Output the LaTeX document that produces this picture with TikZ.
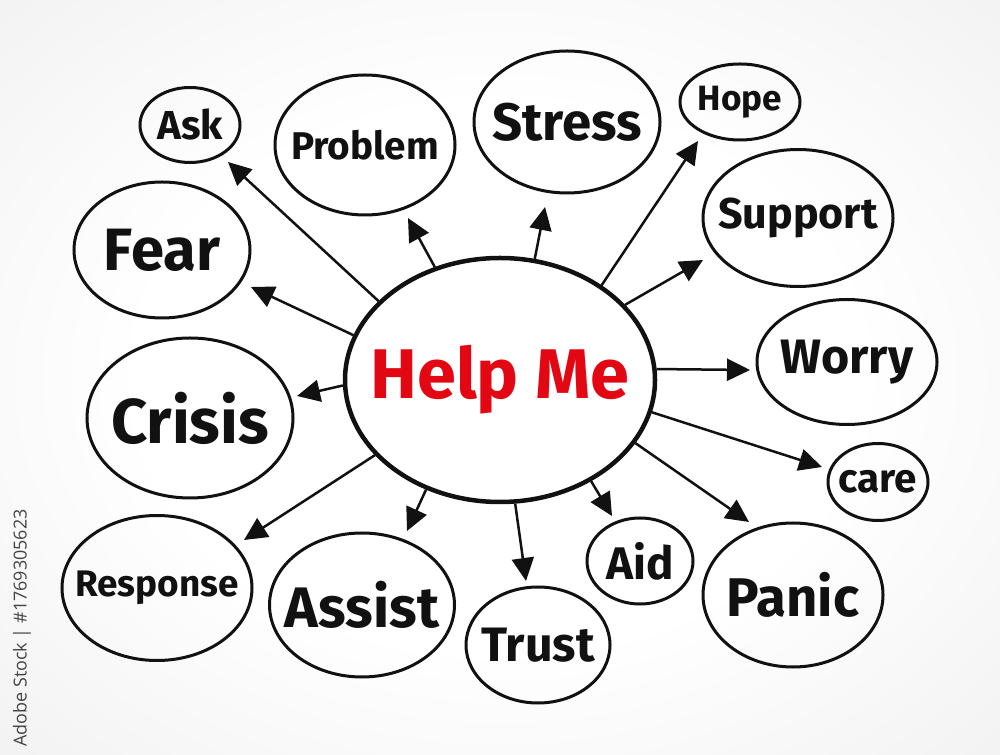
\documentclass[tikz,border=0pt]{standalone}
\usepackage{fontspec}
\setmainfont{Fira Sans}
\newfontfamily\stockfont{Open Sans}
\usetikzlibrary{arrows.meta,shapes.geometric}
\definecolor{hmred}{HTML}{E30613}
\definecolor{hmink}{HTML}{111111}
\definecolor{hmgray}{HTML}{444444}
\pgfdeclareradialshading{paper}{\pgfpoint{0bp}{0bp}}{color(0bp)=(white); color(18bp)=(white); color(50bp)=(black!9); color(72bp)=(black!16)}

\begin{document}
\begin{tikzpicture}[x=0.2mm,y=-0.2mm,
  bub/.style={ellipse,draw=hmink,line width=0.6mm,inner sep=0pt,align=center,text=hmink},
  hub/.style={ellipse,draw=hmink,line width=0.9mm,fill=white,inner sep=0pt,minimum width=62mm,minimum height=48.8mm,text=hmred,font=\bfseries\fontsize{40pt}{40pt}\selectfont},
  ar/.style={-{Triangle[length=4.6mm,width=4.4mm]},line width=0.5mm,hmink}]
\useasboundingbox (0,0) rectangle (1000,755);
\shade[shading=paper] (0,0) rectangle (1000,755);
% ---- watermark strip ----
\node[rotate=90,font=\stockfont\fontsize{10.2pt}{10.2pt}\selectfont,text=hmgray] (stock) at (22,628) {Adobe Stock | \#1769305623};
% ---- centre ----
\node[hub] (help) at (500,380) {\makebox[0pt]{Help Me}};
% ---- bubbles ----
\foreach \nm/\x/\y/\w/\h/\fs/\txt in {ask/190/125/20/15/23/Ask,problem/365/145/36/28/22/Problem,stress/567/122/37.2/28.4/30/Stress,hope/740/102/24/15.2/20/Hope,support/798/218/38/27.4/24.5/Support,fear/162/250/35.2/27.2/34/Fear,worry/847/362/36/25/27.5/Worry,crisis/190/418/41.2/32/36/Crisis,care/878/482/20/15.4/23/care,response/157/588/38/29/21/Response,assist/362/605/37/28.8/32.5/Assist,trust/538/645/28.8/23.2/27.5/Trust,aid/640/561/21.2/17.2/26/Aid,panic/793/595/36/28.8/31/Panic}{
  \node[bub,minimum width=\w mm,minimum height=\h mm,font=\bfseries\fontsize{\fs pt}{\fs pt}\selectfont] (\nm) at (\x,\y) {\makebox[0pt]{\txt}};}
% ---- arrows out of the centre ----
\foreach \nm/\ang/\tx/\ty in {ask/147/228/162,problem/120/408/218,stress/74/545/207,hope/43/698/141,support/31/703/260,fear/163/251/287,worry/4/750/370,crisis/182/297/396,care/348/822/467,response/211/244/540,assist/236/407/531,trust/277/526/581,aid/312/612/516,panic/335/749/522}{
  \coordinate (t-\nm) at (\tx,\ty);
  \draw[ar] (help.\ang) -- (t-\nm);}
\end{tikzpicture}
\end{document}
